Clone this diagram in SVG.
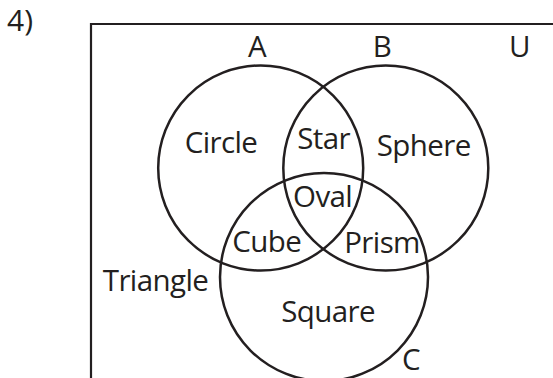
<svg xmlns="http://www.w3.org/2000/svg" width="553" height="378" viewBox="0 0 553 378">
<style>
.set{fill:none;stroke:#231f20;stroke-width:2.5}
.frame{fill:none;stroke:#231f20;stroke-width:2.2}
text{font-family:"Open Sans","Liberation Sans",sans-serif;font-size:29.5px;letter-spacing:-0.6px;fill:#231f20;text-anchor:middle}
</style>
<rect width="553" height="378" fill="#fff"/>
<text id="label-4" x="20" y="31" style="font-size:30px;letter-spacing:0">4)</text>
<g id="universe">
<path class="frame" d="M91,378 V24 H553"/>
<text x="519.5" y="57">U</text>
</g>
<g id="connectors"></g>
<g id="set-A">
<circle class="set" cx="260.7" cy="168" r="102.5"/>
<text x="257" y="57">A</text>
</g>
<g id="set-B">
<circle class="set" cx="385.8" cy="168" r="102.5"/>
<text x="382" y="57">B</text>
</g>
<g id="set-C">
<circle class="set" cx="324" cy="277" r="104"/>
<text x="411" y="370">C</text>
</g>
<g id="region-circle"><text x="221" y="153">Circle</text></g>
<g id="region-star"><text x="323.6" y="149">Star</text></g>
<g id="region-sphere"><text x="423.7" y="156">Sphere</text></g>
<g id="region-oval"><text x="322.6" y="207">Oval</text></g>
<g id="region-cube"><text x="266.7" y="252">Cube</text></g>
<g id="region-prism"><text x="382" y="253">Prism</text></g>
<g id="region-triangle"><text x="155.5" y="291">Triangle</text></g>
<g id="region-square"><text x="328" y="322">Square</text></g>
</svg>
